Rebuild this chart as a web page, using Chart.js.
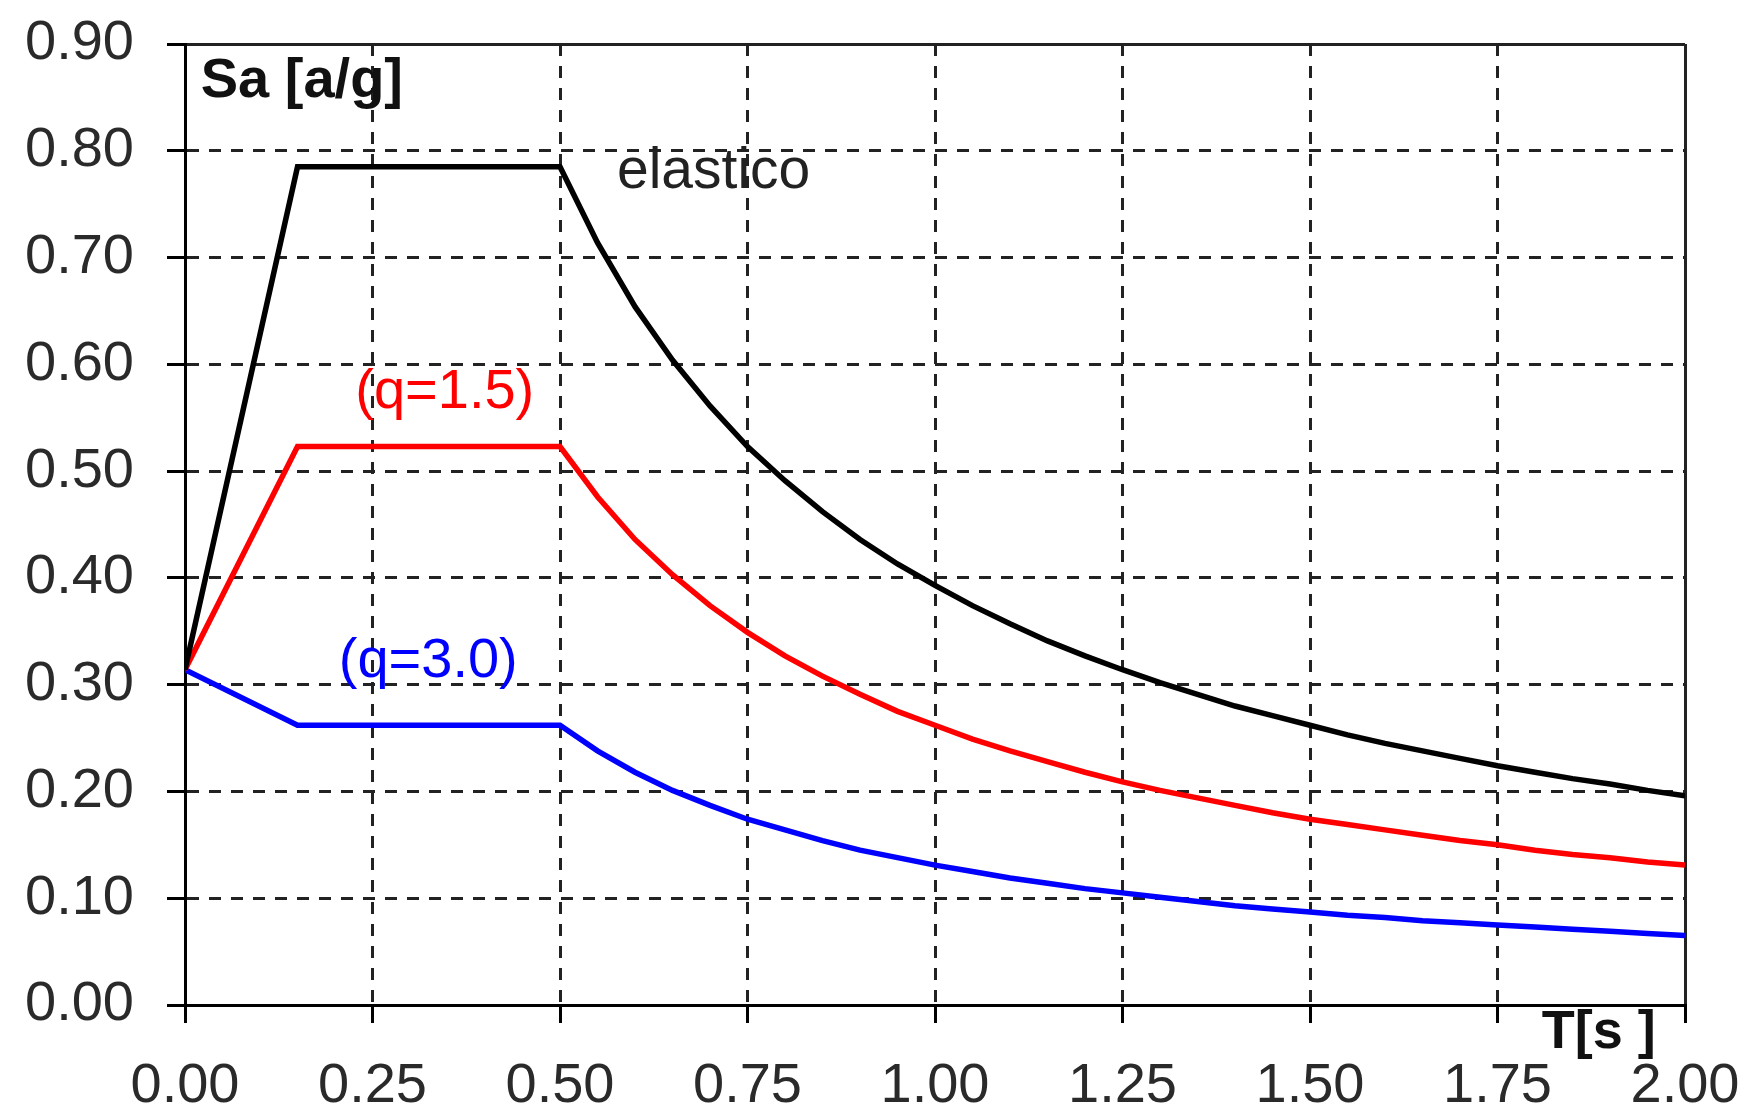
<!DOCTYPE html>
<html>
<head>
<meta charset="utf-8">
<script src="https://cdn.jsdelivr.net/npm/chart.js@4/dist/chart.umd.min.js"></script>
<style>
  html, body { margin: 0; padding: 0; background: #ffffff; }
  canvas { display: block; }
</style>
</head>
<body>
<canvas id="c" width="1753" height="1120"></canvas>
<script>
// ---- data ----
const periods = [0, 0.15, 0.50, 0.55, 0.60, 0.65, 0.70, 0.75, 0.80, 0.85, 0.90, 0.95,
  1.00, 1.05, 1.10, 1.15, 1.20, 1.25, 1.30, 1.35, 1.40, 1.45, 1.50, 1.55, 1.60, 1.65,
  1.70, 1.75, 1.80, 1.85, 1.90, 1.95, 2.00];
const elastico = [0.314, 0.785, 0.785, 0.714, 0.654, 0.604, 0.561, 0.523, 0.491, 0.462, 0.436, 0.413,
  0.393, 0.374, 0.357, 0.341, 0.327, 0.314, 0.302, 0.291, 0.280, 0.271, 0.262, 0.253, 0.245, 0.238,
  0.231, 0.224, 0.218, 0.212, 0.207, 0.201, 0.196];
const q15 = [0.314, 0.523, 0.523, 0.476, 0.436, 0.403, 0.374, 0.349, 0.327, 0.308, 0.291, 0.275,
  0.262, 0.249, 0.238, 0.228, 0.218, 0.209, 0.201, 0.194, 0.187, 0.180, 0.174, 0.169, 0.164, 0.159,
  0.154, 0.150, 0.145, 0.141, 0.138, 0.134, 0.131];
const q30 = [0.314, 0.262, 0.262, 0.238, 0.218, 0.201, 0.187, 0.174, 0.164, 0.154, 0.145, 0.138,
  0.131, 0.125, 0.119, 0.114, 0.109, 0.105, 0.101, 0.097, 0.093, 0.090, 0.087, 0.084, 0.082, 0.079,
  0.077, 0.075, 0.073, 0.071, 0.069, 0.067, 0.065];
const xTickLabels = ['0.00', '0.25', '0.50', '0.75', '1.00', '1.25', '1.50', '1.75', '2.00'];
const yTickLabels = ['0.00', '0.10', '0.20', '0.30', '0.40', '0.50', '0.60', '0.70', '0.80', '0.90'];
const seriesNames = ['elastico', '(q=1.5)', '(q=3.0)'];
const yAxisTitle = 'Sa [a/g]';
const xAxisTitle = 'T[s ]';

// ---- annotation placement (data units) ----
const FONT = '"Liberation Sans", Arial, sans-serif';
const notes = [
  { text: yAxisTitle, x: 0.021, y: 0.850, color: '#111', weight: 'bold', size: 56, align: 'left' },
  { text: seriesNames[0], x: 0.576, y: 0.765, color: '#222', weight: 'normal', size: 57, align: 'left' },
  { text: seriesNames[1], x: 0.227, y: 0.559, color: '#ff0000', weight: 'normal', size: 56, align: 'left' },
  { text: seriesNames[2], x: 0.205, y: 0.307, color: '#0000ff', weight: 'normal', size: 56, align: 'left' },
  { text: xAxisTitle, x: 1.961, y: -0.040, color: '#111', weight: 'bold', size: 54, align: 'right' }
];

const toPts = (arr) => periods.map((t, i) => ({ x: t, y: arr[i] }));

const notesPlugin = {
  id: 'notes',
  afterDatasetsDraw(chart) {
    const { ctx, scales: { x, y } } = chart;
    ctx.save();
    notes.forEach(n => {
      ctx.font = `${n.weight} ${n.size}px ${FONT}`;
      ctx.fillStyle = n.color;
      ctx.textAlign = n.align;
      ctx.textBaseline = 'alphabetic';
      ctx.fillText(n.text, x.getPixelForValue(n.x), y.getPixelForValue(n.y));
    });
    ctx.restore();
  }
};

const lastSolid = (ctx) => {
  const n = ctx.scale && ctx.scale.ticks ? ctx.scale.ticks.length : 0;
  return (ctx.index === n - 1) ? [] : [12, 10];
};

new Chart(document.getElementById('c'), {
  type: 'line',
  data: {
    datasets: [
      { label: seriesNames[0], data: toPts(elastico), borderColor: '#000000', borderWidth: 5.5 },
      { label: seriesNames[1], data: toPts(q15), borderColor: '#ff0000', borderWidth: 5.5 },
      { label: seriesNames[2], data: toPts(q30), borderColor: '#0000ff', borderWidth: 5.5 }
    ]
  },
  options: {
    responsive: false,
    animation: false,
    events: [],
    layout: { padding: { top: 44, right: 68, left: 0, bottom: 0 } },
    elements: { point: { radius: 0 }, line: { tension: 0, borderJoinStyle: 'miter' } },
    plugins: { legend: { display: false }, tooltip: { enabled: false } },
    scales: {
      x: {
        type: 'linear', min: 0, max: 2,
        afterFit(s) { s.height = 115; s.paddingLeft = 0; s.paddingRight = 0; },
        ticks: {
          stepSize: 0.25, padding: 30, color: '#2a2a2a',
          font: { family: FONT, size: 56 },
          maxRotation: 0, autoSkip: false,
          callback: (v, i) => xTickLabels[i]
        },
        grid: { color: '#222', lineWidth: 3, tickLength: 18, tickColor: '#000', tickWidth: 3 },
        border: { display: true, color: '#000', width: 3, dash: lastSolid }
      },
      y: {
        type: 'linear', min: 0, max: 0.9,
        afterFit(s) { s.width = 185; s.paddingTop = 0; s.paddingBottom = 0; },
        ticks: {
          stepSize: 0.1, padding: 33, color: '#2a2a2a',
          font: { family: FONT, size: 56 },
          autoSkip: false,
          callback: (v, i) => yTickLabels[i]
        },
        grid: { color: '#222', lineWidth: 3, tickLength: 18, tickColor: '#000', tickWidth: 3 },
        border: { display: true, color: '#000', width: 3, dash: lastSolid }
      }
    }
  },
  plugins: [notesPlugin]
});
</script>
</body>
</html>
